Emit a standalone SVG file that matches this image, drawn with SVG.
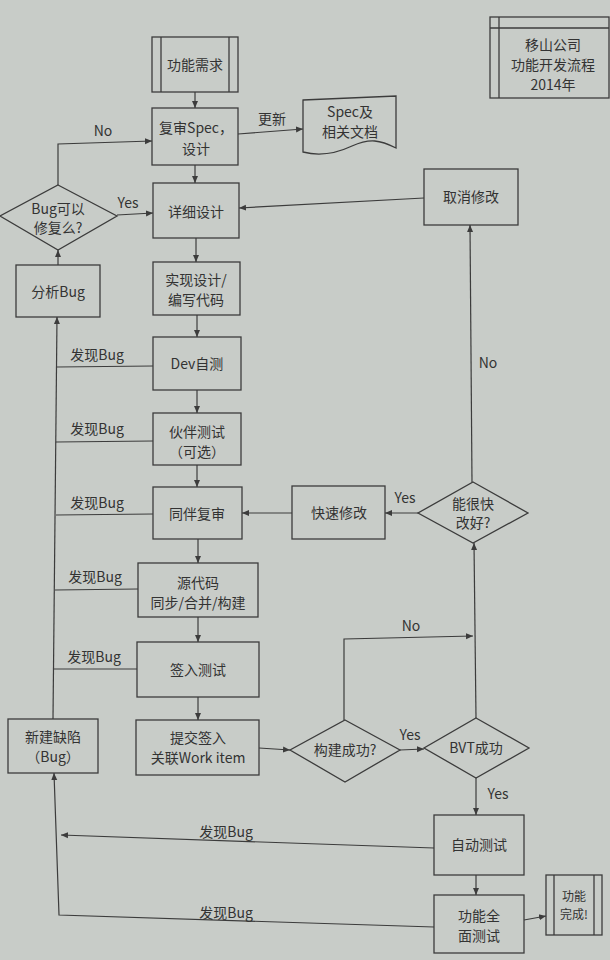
<svg xmlns="http://www.w3.org/2000/svg" width="610" height="960" viewBox="0 0 610 960">
<style>
.bg{fill:#c8ccc8}
.n{fill:none;stroke:#3c3c3c;stroke-width:1.3}
.c{fill:none;stroke:#3c3c3c;stroke-width:1.2}
text{font-family:"Noto Sans CJK SC","Liberation Sans",sans-serif;font-size:14px;fill:#333;text-anchor:middle}
.l{text-anchor:start}
</style>
<defs>
<marker id="a" markerWidth="8" markerHeight="8" refX="7" refY="4" orient="auto" markerUnits="userSpaceOnUse">
<path d="M0,1 L7,4 L0,7 Z" fill="#3c3c3c"/>
</marker>
</defs>
<rect class="bg" x="0" y="0" width="610" height="960"/>

<g id="title">
<rect class="n" x="490" y="17" width="119" height="81"/>
<line class="n" x1="499" y1="17" x2="499" y2="98"/>
<line class="n" x1="490" y1="28" x2="609" y2="28"/>
<text x="553" y="50">移山公司</text>
<text x="553" y="70">功能开发流程</text>
<text x="553" y="90">2014年</text>
</g>

<g id="req">
<rect class="n" x="152" y="37" width="86" height="55"/>
<line class="n" x1="161" y1="37" x2="161" y2="92"/>
<line class="n" x1="229" y1="37" x2="229" y2="92"/>
<text x="195" y="70">功能需求</text>
</g>

<g id="review">
<rect class="n" x="152" y="108" width="86" height="57"/>
<text x="196" y="133">复审Spec，</text>
<text x="196" y="154">设计</text>
</g>

<g id="doc">
<path class="n" d="M303,100 L396,96 L396,148 C380,140 370,138 352,146 C335,154 318,156 303,152 Z"/>
<text x="350" y="117">Spec及</text>
<text x="350" y="137">相关文档</text>
</g>

<g id="detail">
<rect class="n" x="153" y="183" width="86" height="55"/>
<text x="196" y="217">详细设计</text>
</g>

<g id="impl">
<rect class="n" x="153" y="262" width="87" height="53"/>
<text x="196" y="285">实现设计/</text>
<text x="196" y="305">编写代码</text>
</g>

<g id="dev">
<rect class="n" x="153" y="337" width="88" height="53"/>
<text x="197" y="369">Dev自测</text>
</g>

<g id="buddy">
<rect class="n" x="153" y="413" width="88" height="52"/>
<text x="197" y="437">伙伴测试</text>
<text x="197" y="457">（可选）</text>
</g>

<g id="peer">
<rect class="n" x="153" y="487" width="89" height="52"/>
<text x="197" y="519">同伴复审</text>
</g>

<g id="src">
<rect class="n" x="138" y="563" width="120" height="54"/>
<text x="198" y="588">源代码</text>
<text x="198" y="608">同步/合并/构建</text>
</g>

<g id="checkintest">
<rect class="n" x="137" y="642" width="122" height="55"/>
<text x="198" y="675">签入测试</text>
</g>

<g id="commit">
<rect class="n" x="136" y="720" width="123" height="55"/>
<text x="198" y="743">提交签入</text>
<text x="198" y="763">关联Work item</text>
</g>

<g id="newbug">
<rect class="n" x="8" y="719" width="90" height="54"/>
<text x="53" y="742">新建缺陷</text>
<text x="53" y="762">（Bug）</text>
</g>

<g id="analyze">
<rect class="n" x="16" y="265" width="84" height="52"/>
<text x="58" y="297">分析Bug</text>
</g>

<g id="canfix">
<polygon class="n" points="58,185 117,216 58,250 0,216"/>
<text x="58" y="214">Bug可以</text>
<text x="58" y="233">修复么?</text>
</g>

<g id="cancel">
<rect class="n" x="424" y="169" width="94" height="56"/>
<text x="471" y="202">取消修改</text>
</g>

<g id="quick">
<polygon class="n" points="473,482 528,513 473,543 418,513"/>
<text x="473" y="509">能很快</text>
<text x="473" y="528">改好?</text>
</g>

<g id="quickfix">
<rect class="n" x="292" y="486" width="93" height="53"/>
<text x="339" y="518">快速修改</text>
</g>

<g id="buildok">
<polygon class="n" points="345,720 400,750 345,782 290,750"/>
<text x="345" y="755">构建成功?</text>
</g>

<g id="bvt">
<polygon class="n" points="476,718 529,748 476,778 424,748"/>
<text x="476" y="753">BVT成功</text>
</g>

<g id="autotest">
<rect class="n" x="434" y="815" width="90" height="60"/>
<text x="479" y="850">自动测试</text>
</g>

<g id="fulltest">
<rect class="n" x="434" y="895" width="90" height="58"/>
<text x="479" y="921">功能全</text>
<text x="479" y="941">面测试</text>
</g>

<g id="done">
<rect class="n" x="546" y="875" width="56" height="60"/>
<line class="n" x1="554" y1="875" x2="554" y2="935"/>
<line class="n" x1="594" y1="875" x2="594" y2="935"/>
<text x="574" y="901" style="font-size:12px">功能</text>
<text x="574" y="919" style="font-size:12px">完成!</text>
</g>

<g id="connectors">
<line class="c" x1="195" y1="92" x2="195" y2="108" marker-end="url(#a)"/>
<line class="c" x1="195" y1="165" x2="195" y2="183" marker-end="url(#a)"/>
<line class="c" x1="196" y1="238" x2="196" y2="262" marker-end="url(#a)"/>
<line class="c" x1="197" y1="315" x2="197" y2="337" marker-end="url(#a)"/>
<line class="c" x1="197" y1="390" x2="197" y2="413" marker-end="url(#a)"/>
<line class="c" x1="197" y1="465" x2="197" y2="487" marker-end="url(#a)"/>
<line class="c" x1="198" y1="539" x2="198" y2="563" marker-end="url(#a)"/>
<line class="c" x1="198" y1="617" x2="198" y2="642" marker-end="url(#a)"/>
<line class="c" x1="198" y1="697" x2="198" y2="720" marker-end="url(#a)"/>

<line class="c" x1="238" y1="134" x2="303" y2="129" marker-end="url(#a)"/>
<text x="272" y="124">更新</text>

<polyline class="c" points="58,185 58,144 152,141" marker-end="url(#a)"/>
<text x="103" y="136">No</text>
<line class="c" x1="117" y1="215" x2="153" y2="213" marker-end="url(#a)"/>
<text x="128" y="208">Yes</text>
<line class="c" x1="58" y1="265" x2="58" y2="250" marker-end="url(#a)"/>

<line class="c" x1="53" y1="719" x2="57" y2="317" marker-end="url(#a)"/>
<line class="c" x1="153" y1="366" x2="57" y2="367"/>
<text x="97" y="360">发现Bug</text>
<line class="c" x1="153" y1="441" x2="56" y2="442"/>
<text x="97" y="434">发现Bug</text>
<line class="c" x1="153" y1="514" x2="56" y2="515"/>
<text x="97" y="508">发现Bug</text>
<line class="c" x1="138" y1="589" x2="55" y2="590"/>
<text x="95" y="582">发现Bug</text>
<line class="c" x1="137" y1="669" x2="54" y2="669"/>
<text x="94" y="662">发现Bug</text>

<line class="c" x1="259" y1="748" x2="290" y2="750" marker-end="url(#a)"/>
<line class="c" x1="400" y1="750" x2="424" y2="749" marker-end="url(#a)"/>
<text x="410" y="740">Yes</text>
<polyline class="c" points="344,720 344,639 473,636" marker-end="url(#a)"/>
<text x="411" y="631">No</text>
<line class="c" x1="476" y1="718" x2="474" y2="543" marker-end="url(#a)"/>
<line class="c" x1="418" y1="513" x2="385" y2="513" marker-end="url(#a)"/>
<text x="405" y="503">Yes</text>
<line class="c" x1="292" y1="513" x2="242" y2="513" marker-end="url(#a)"/>
<line class="c" x1="472" y1="482" x2="470" y2="225" marker-end="url(#a)"/>
<text x="488" y="368">No</text>
<line class="c" x1="424" y1="198" x2="239" y2="208" marker-end="url(#a)"/>

<line class="c" x1="476" y1="778" x2="476" y2="815" marker-end="url(#a)"/>
<text x="498" y="799">Yes</text>
<line class="c" x1="476" y1="875" x2="476" y2="895" marker-end="url(#a)"/>
<line class="c" x1="524" y1="920" x2="546" y2="916" marker-end="url(#a)"/>

<line class="c" x1="434" y1="848" x2="61" y2="835" marker-end="url(#a)"/>
<text x="226" y="837">发现Bug</text>
<polyline class="c" points="434,927 59,915 54,773" marker-end="url(#a)"/>
<text x="226" y="918">发现Bug</text>
</g>
</svg>
